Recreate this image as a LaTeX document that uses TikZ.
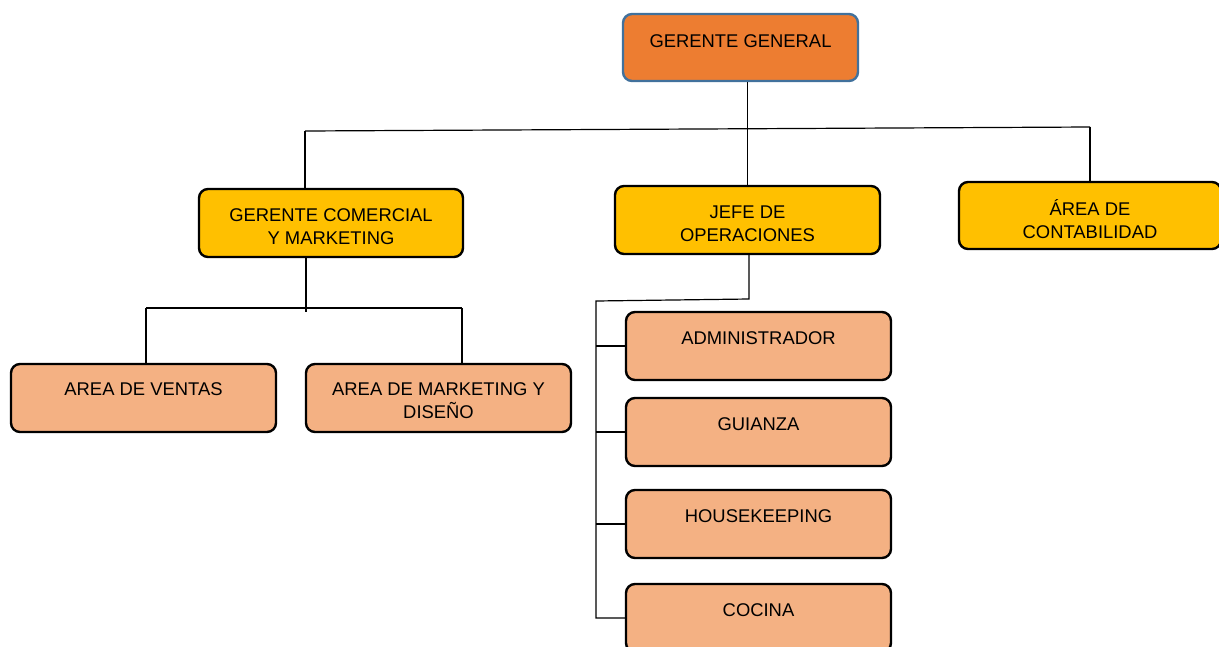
\documentclass[tikz,border=0pt]{standalone}
\usepackage{fontspec}
\setmainfont{Liberation Sans}
\definecolor{ggfill}{HTML}{ED7D31}
\definecolor{ggdraw}{HTML}{41719C}
\definecolor{gold}{HTML}{FFC000}
\definecolor{peach}{HTML}{F4B183}
\tikzset{
  box/.style={draw=black, rounded corners=9pt, line width=2.4pt, minimum width=265pt, minimum height=68pt, inner sep=0pt},
  lvlone/.style={box, fill=gold},
  lvltwo/.style={box, fill=peach},
  txt/.style={font=\fontsize{18.4}{23}\selectfont, align=center, inner sep=0pt},
  conn/.style={line width=1.2pt, draw=black}
}
\begin{document}
\begin{tikzpicture}[x=1pt,y=-1pt]
\useasboundingbox (0,0) rectangle (1219,646);
\clip (0,0) rectangle (1219,646);
% boxes
\node[box, fill=ggfill, draw=ggdraw, minimum width=235pt, minimum height=67pt] (gg) at (740.5,47.5) {};
\node[lvlone, minimum width=264pt] (gcm) at (331,223) {};
\node[lvlone] (jefe) at (747.5,220) {};
\node[lvlone, minimum width=262pt, minimum height=67pt] (cont) at (1090,215.5) {};
\node[lvltwo] (ventas) at (143.5,398) {};
\node[lvltwo] (mkt) at (438.5,398) {};
\node[lvltwo] (adm) at (758.5,346) {};
\node[lvltwo] (gui) at (758.5,432) {};
\node[lvltwo] (hk) at (758.5,524) {};
\node[lvltwo] (coc) at (758.5,618) {};
% texts
\node[txt] (ggt) at (740.5,41) {GERENTE GENERAL};
\node[txt] (gcmt) at (331,226.5) {GERENTE COMERCIAL\\Y MARKETING};
\node[txt] (jefet) at (747.5,223.5) {JEFE DE\\OPERACIONES};
\node[txt] (contt) at (1090,219.5) {ÁREA DE\\CONTABILIDAD};
\node[txt] (ventast) at (143.5,389) {AREA DE VENTAS};
\node[txt] (mktt) at (438.5,400.5) {AREA DE MARKETING Y\\DISEÑO};
\node[txt] (admt) at (758.5,338) {ADMINISTRADOR};
\node[txt] (guit) at (758.5,424) {GUIANZA};
\node[txt] (hkt) at (758.5,516) {HOUSEKEEPING};
\node[txt] (coct) at (758.5,610) {COCINA};
% connectors level 1
\coordinate (b1) at (305,131);
\coordinate (b2) at (1090,127);
\draw[conn] (gg.south -| jefe.north) -- (jefe.north);
\draw[conn] (b1) -- (b2);
\draw[conn] (b1) -- (b1 |- gcm.north);
\draw[conn] (b2) -- (b2 |- cont.north);
% connectors under gcm
\coordinate (c1) at (306,312);
\coordinate (cL) at (146,308);
\coordinate (cR) at (462,308);
\draw[conn] (c1 |- gcm.south) -- (c1);
\draw[conn] (cL) -- (cR);
\draw[conn] (cL) -- (cL |- ventas.north);
\draw[conn] (cR) -- (cR |- mkt.north);
% connectors under jefe
\coordinate (d1) at (749,299);
\coordinate (d2) at (596,301);
\draw[conn] (jefe.south -| d1) -- (d1) -- (d2) -- (d2 |- coc.west) -- (coc.west);
\draw[conn] (d2 |- adm.west) -- (adm.west);
\draw[conn] (d2 |- gui.west) -- (gui.west);
\draw[conn] (d2 |- hk.west) -- (hk.west);
\end{tikzpicture}
\end{document}
